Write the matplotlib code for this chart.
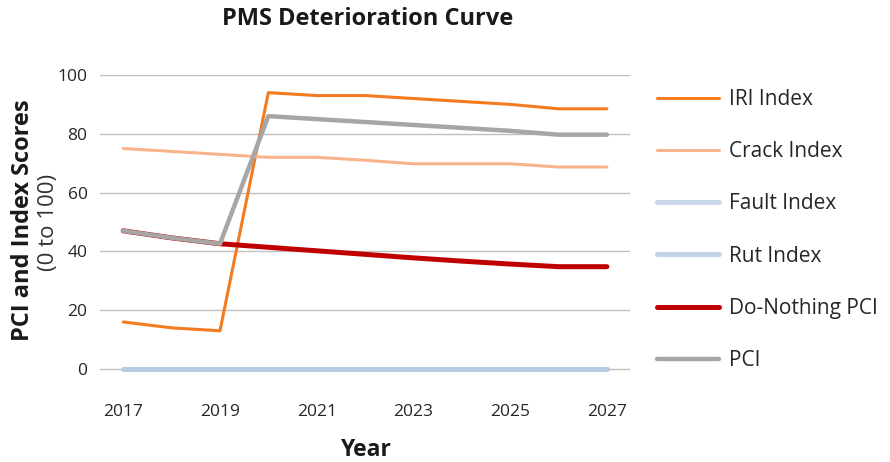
import numpy as np
import matplotlib.pyplot as plt

plt.rcParams['font.family'] = ['Open Sans', 'DejaVu Sans']

years = [2017, 2018, 2019, 2020, 2021, 2022, 2023, 2024, 2025, 2026, 2027]
iri = [16, 14, 13, 94, 93, 93, 92, 91, 90, 88.5, 88.5]
crack = [75, 74, 73, 72, 72, 71, 69.8, 69.8, 69.8, 68.7, 68.7]
fault = [0, 0, 0, 0, 0, 0, 0, 0, 0, 0, 0]
rut = [0, 0, 0, 0, 0, 0, 0, 0, 0, 0, 0]
do_nothing = [47, 44.6, 42.6, 41.4, 40.2, 39.0, 37.8, 36.7, 35.7, 34.8, 34.8]
pci = [47, 44.6, 42.6, 86, 85, 84, 83, 82, 81, 79.7, 79.7]

fig = plt.figure(figsize=(8.9, 4.62), dpi=100)
ax = fig.add_axes([0.1124, 0.144, 0.5956, 0.6937])

ax.plot(years, iri, color='#f47b20', lw=2.2, label='IRI Index', solid_capstyle='round')
ax.plot(years, crack, color='#f9b48c', lw=2.2, label='Crack Index', solid_capstyle='round')
ax.plot(years, fault, color='#c9d8ec', lw=3.6, label='Fault Index', solid_capstyle='round')
ax.plot(years, rut, color='#b4c8e2', lw=3.6, alpha=0.8, label='Rut Index', solid_capstyle='round')
ax.plot(years, do_nothing, color='#c00000', lw=3.6, label='Do-Nothing PCI', solid_capstyle='round')
ax.plot(years, pci, color='#a6a6a6', lw=3.2, label='PCI', solid_capstyle='round')

ax.set_xlim(2016.52, 2027.48)
ax.set_ylim(-9, 100)
ax.set_yticks([0, 20, 40, 60, 80, 100])
ax.set_xticks([2017, 2019, 2021, 2023, 2025, 2027])
ax.grid(axis='y', color='#bfbfbf', lw=1)
ax.set_axisbelow(True)
for s in ax.spines.values():
    s.set_visible(False)
ax.tick_params(length=0, labelsize=12.5, colors='#262626', pad=6)
ax.tick_params(axis='y', pad=9)

fig.text(0.413, 0.958, 'PMS Deterioration Curve', fontsize=17, fontweight='bold',
         color='#1a1a1a', ha='center', va='center')
fig.text(0.411, 0.012, 'Year', fontsize=16.5, fontweight='bold', color='#1a1a1a',
         ha='center', va='baseline')
fig.text(0.026, 0.524, 'PCI and Index Scores', rotation=90, fontsize=17,
         fontweight='bold', color='#1a1a1a', ha='center', va='center')
fig.text(0.054, 0.519, '(0 to 100)', rotation=90, fontsize=16,
         color='#333333', ha='center', va='center')

leg = ax.legend(loc='upper left', bbox_to_anchor=(1.015, 1.015), frameon=False,
                fontsize=15, handlelength=3.0, handletextpad=0.45,
                labelspacing=1.5)
for t in leg.get_texts():
    t.set_color('#262626')

fig.savefig('out.png', dpi=100)
